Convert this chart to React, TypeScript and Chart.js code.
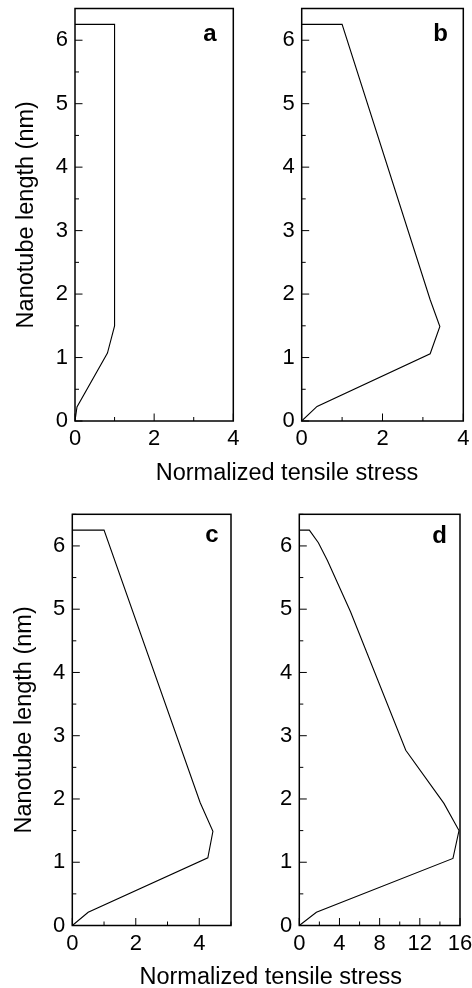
import React, { useEffect, useRef } from 'react';
import { Chart, registerables } from 'chart.js';

Chart.register(...registerables);

// ---- data ----
const stressA = [0, 1, 1, 0.82, 0.05, 0];
const lengthA = [6.25, 6.25, 1.5, 1.07, 0.22, 0];

const stressB = [0, 1, 3.18, 3.42, 3.18, 0.38, 0];
const lengthB = [6.25, 6.25, 1.91, 1.49, 1.06, 0.23, 0];

const stressC = [0, 1, 4.03, 4.43, 4.27, 0.5, 0];
const lengthC = [6.25, 6.25, 1.94, 1.49, 1.07, 0.21, 0];

const stressD = [0, 1, 1.9, 2.8, 5.1, 10.6, 14.4, 15.9, 15.3, 1.7, 0];
const lengthD = [6.25, 6.25, 6.05, 5.77, 4.96, 2.77, 1.93, 1.5, 1.06, 0.21, 0];

const yTickLabels = [0, 1, 2, 3, 4, 5, 6];
const xTickLabelsAB = [0, 2, 4];
const xTickLabelsC = [0, 2, 4];
const xTickLabelsD = [0, 4, 8, 12, 16];

const Y_TITLE = 'Nanotube length (nm)';
const X_TITLE = 'Normalized tensile stress';

const FAMILY = '"Liberation Sans", Arial, Helvetica, sans-serif';

type PanelSpec = {
  stress: number[];
  length: number[];
  xMax: number;
  xStep: number;
  xLabels: number[];
  letter: string;
  letterDx: number;
  letterDy: number;
  canvas: { left: number; top: number; w: number; h: number };
  yW: number;
  xH: number;
  padTop: number;
  padRight: number;
  yTitlePad?: number;
  xTitle?: { x: number; y: number };
};

const panels: PanelSpec[] = [
  {
    stress: stressA, length: lengthA, xMax: 4, xStep: 1, xLabels: xTickLabelsAB,
    letter: 'a', letterDx: 16.8, letterDy: 32.5,
    canvas: { left: 0, top: 0, w: 472, h: 490 },
    yW: 75, xH: 69, padTop: 8.5, padRight: 238.7, yTitlePad: 12.7,
    xTitle: { x: 287, y: 480 },
  },
  {
    stress: stressB, length: lengthB, xMax: 4, xStep: 1, xLabels: xTickLabelsAB,
    letter: 'b', letterDx: 15.5, letterDy: 32.5,
    canvas: { left: 240, top: 0, w: 232, h: 460 },
    yW: 61.7, xH: 39, padTop: 8.5, padRight: 8.7,
  },
  {
    stress: stressC, length: lengthC, xMax: 5, xStep: 1, xLabels: xTickLabelsC,
    letter: 'c', letterDx: 12.5, letterDy: 27.4,
    canvas: { left: 0, top: 490, w: 472, h: 498 },
    yW: 72.3, xH: 62.5, padTop: 24.3, padRight: 241, yTitlePad: 10.7,
    xTitle: { x: 270.7, y: 494.3 },
  },
  {
    stress: stressD, length: lengthD, xMax: 16, xStep: 2, xLabels: xTickLabelsD,
    letter: 'd', letterDx: 13, letterDy: 28.4,
    canvas: { left: 240, top: 490, w: 232, h: 470 },
    yW: 59.3, xH: 34.5, padTop: 24.3, padRight: 12,
  },
];

function Panel({ spec }: { spec: PanelSpec }) {
  const ref = useRef<HTMLCanvasElement | null>(null);

  useEffect(() => {
    const canvas = ref.current;
    if (!canvas) return;

    const decor = {
      id: 'panelDecor',
      afterDraw(chart: any) {
        const { ctx, chartArea } = chart;
        const { left, right, top, bottom } = chartArea;
        const xs = chart.scales.x;
        const ys = chart.scales.y;
        ctx.save();
        ctx.strokeStyle = '#000';
        ctx.lineWidth = 1;
        ctx.beginPath();
        xs.ticks.forEach((t: any) => {
          const px = xs.getPixelForValue(t.value);
          const len = spec.xLabels.includes(t.value) ? 7.5 : 4;
          ctx.moveTo(px, bottom);
          ctx.lineTo(px, bottom - len);
        });
        ys.ticks.forEach((t: any) => {
          const py = ys.getPixelForValue(t.value);
          const len = yTickLabels.includes(t.value) ? 7.5 : 4;
          ctx.moveTo(left, py);
          ctx.lineTo(left + len, py);
        });
        ctx.stroke();

        ctx.lineWidth = 1.5;
        ctx.strokeRect(left, top, right - left, bottom - top);

        ctx.fillStyle = '#000';
        ctx.font = `bold 24px ${FAMILY}`;
        ctx.textAlign = 'right';
        ctx.textBaseline = 'alphabetic';
        ctx.fillText(spec.letter, right - spec.letterDx, top + spec.letterDy);

        if (spec.xTitle) {
          ctx.font = `23.5px ${FAMILY}`;
          ctx.textAlign = 'center';
          ctx.fillText(X_TITLE, spec.xTitle.x, spec.xTitle.y);
        }
        ctx.restore();
      },
    };

    const chart = new Chart(canvas, {
      type: 'scatter',
      data: {
        datasets: [
          {
            data: spec.stress.map((s, i) => ({ x: s, y: spec.length[i] })),
            showLine: true,
            borderColor: '#000',
            borderWidth: 1.1,
            pointRadius: 0,
            pointHoverRadius: 0,
            tension: 0,
            fill: false,
          },
        ],
      },
      options: {
        animation: false,
        responsive: false,
        devicePixelRatio: 1,
        events: [],
        layout: {
          autoPadding: false,
          padding: { left: 0, top: spec.padTop, right: spec.padRight, bottom: 0 },
        },
        plugins: {
          legend: { display: false },
          tooltip: { enabled: false },
          title: { display: false },
        },
        scales: {
          x: {
            type: 'linear',
            position: 'bottom',
            min: 0,
            max: spec.xMax,
            grid: { display: false, drawTicks: false },
            border: { display: false },
            ticks: {
              stepSize: spec.xStep,
              autoSkip: false,
              maxRotation: 0,
              padding: 5,
              color: '#000',
              font: { family: FAMILY, size: 22 },
              callback: (v: any) => (spec.xLabels.includes(Number(v)) ? String(v) : ''),
            },
            afterFit: (scale: any) => {
              scale.height = spec.xH;
              scale.paddingLeft = 0;
              scale.paddingRight = 0;
            },
          },
          y: {
            type: 'linear',
            position: 'left',
            min: 0,
            max: 6.5,
            grid: { display: false, drawTicks: false },
            border: { display: false },
            title: {
              display: spec.yTitlePad !== undefined,
              text: Y_TITLE,
              color: '#000',
              font: { family: FAMILY, size: 23.5 },
              padding: { top: spec.yTitlePad ?? 0, bottom: 0 },
            },
            ticks: {
              stepSize: 0.5,
              autoSkip: false,
              padding: 7,
              color: '#000',
              font: { family: FAMILY, size: 22 },
              callback: (v: any) => (yTickLabels.includes(Number(v)) ? String(v) : ''),
            },
            afterFit: (scale: any) => {
              scale.width = spec.yW;
              scale.paddingTop = 0;
              scale.paddingBottom = 0;
            },
          },
        },
      },
      plugins: [decor],
    } as any);

    return () => chart.destroy();
  }, [spec]);

  return (
    <canvas
      ref={ref}
      width={spec.canvas.w}
      height={spec.canvas.h}
      style={{
        position: 'absolute',
        left: spec.canvas.left,
        top: spec.canvas.top,
        width: spec.canvas.w,
        height: spec.canvas.h,
      }}
    />
  );
}

export default function App() {
  return (
    <div
      style={{
        position: 'absolute',
        left: 0,
        top: 0,
        width: 472,
        height: 988,
        background: '#fff',
        overflow: 'hidden',
      }}
    >
      {panels.map((p, i) => (
        <Panel key={i} spec={p} />
      ))}
    </div>
  );
}
